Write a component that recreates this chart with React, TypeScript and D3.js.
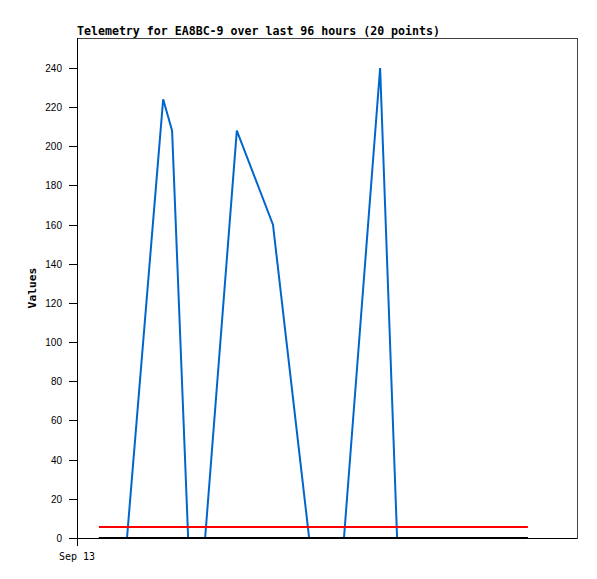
import React from "react";
import * as d3 from "d3";

const title = "Telemetry for EA8BC-9 over last 96 hours (20 points)";
const yLabel = "Values";
const xTickLabels = ["Sep 13"];
const xTickHours = [0];
const yTicks = [0, 20, 40, 60, 80, 100, 120, 140, 160, 180, 200, 220, 240];

// hours since Sep 13 00:00
const hours = [4.9, 8.0, 11.2, 19.3, 21.3, 24.9, 28.7, 35.8, 43.9, 52.0, 59.8, 67.9, 71.7, 76, 80, 84, 88, 92, 96.5, 101];
const seriesBlue = [0, 0, 0, 224, 208, 0, 0, 208, 160, 0, 0, 240, 0, 0, 0, 0, 0, 0, 0, 0];
const seriesRed = hours.map(() => 5.6);
const seriesBlack = hours.map(() => 0);

export default function App() {
  const W = 597, H = 579;
  const left = 77, top = 38, right = 577, bottom = 538;
  const x = d3.scaleLinear().domain([0, 112]).range([left, right]);
  const y = d3.scaleLinear().domain([0, 255.3]).range([bottom, top]);
  const line = (vals: number[]) =>
    d3.line<number>().x((_, i) => x(hours[i])).y((d) => y(d))(vals) || "";
  return (
    <svg width={W} height={H} style={{ position: "absolute", left: 0, top: 0 }}>
      <rect x={0} y={0} width={W} height={H} fill="#fff" />
      <text x={left} y={35} fontFamily="DejaVu Sans Mono" fontWeight="bold" fontSize={11.6} fill="#000">
        {title}
      </text>
      <rect x={left} y={top} width={right - left} height={bottom - top} fill="none" stroke="#444" strokeWidth={1} shapeRendering="crispEdges" />
      <line x1={left} x2={left} y1={top} y2={bottom} stroke="#000" shapeRendering="crispEdges" />
      <line x1={left} x2={right} y1={bottom} y2={bottom} stroke="#000" shapeRendering="crispEdges" />
      {yTicks.map((t) => (
        <g key={t}>
          <line x1={left - 8} x2={left} y1={Math.round(y(t)) + 0.5} y2={Math.round(y(t)) + 0.5} stroke="#000" />
          <text x={left - 15} y={y(t) + 4} textAnchor="end" fontFamily="Liberation Sans" fontSize={10} fill="#000">
            {t}
          </text>
        </g>
      ))}
      {xTickHours.map((h, i) => (
        <g key={i}>
          <line x1={Math.round(x(h)) + 0.5} x2={Math.round(x(h)) + 0.5} y1={bottom} y2={bottom + 8} stroke="#000" />
          <text x={x(h)} y={560} textAnchor="middle" fontFamily="DejaVu Sans Mono" fontSize={10} fill="#000">
            {xTickLabels[i]}
          </text>
        </g>
      ))}
      <text
        transform={`translate(36, ${(top + bottom) / 2}) rotate(-90)`}
        textAnchor="middle"
        fontFamily="DejaVu Sans Mono"
        fontWeight="bold"
        fontSize={11.3}
        fill="#000"
      >
        {yLabel}
      </text>
      <path d={line(seriesBlue)} fill="none" stroke="#0066cc" strokeWidth={2} />
      <path d={line(seriesRed)} fill="none" stroke="#ff0000" strokeWidth={2} />
      <path d={line(seriesBlack)} fill="none" stroke="#000" strokeWidth={2} />
    </svg>
  );
}
